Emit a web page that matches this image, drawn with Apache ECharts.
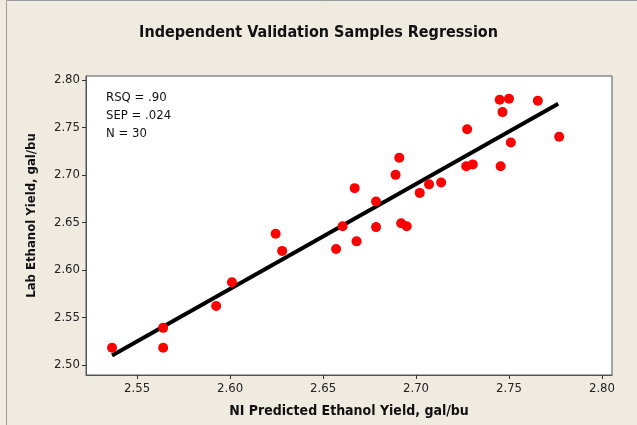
<!DOCTYPE html>
<html>
<head>
<meta charset="utf-8">
<script src="https://cdn.jsdelivr.net/npm/echarts@6/dist/echarts.min.js"></script>
<style>
  html, body { margin: 0; padding: 0; background: #efebe1; }
  #main { width: 637px; height: 425px; }
</style>
</head>
<body>
<div id="main"></div>
<script>
// NI predicted (x) vs lab (y) ethanol yield, gal/bu
var predicted = [2.5365, 2.564, 2.564, 2.5925, 2.601, 2.6245, 2.628, 2.657, 2.6605, 2.667,
                 2.668, 2.6785, 2.6785, 2.689, 2.691, 2.692, 2.695, 2.702, 2.707, 2.7135,
                 2.7275, 2.727, 2.7305, 2.745, 2.7455, 2.7465, 2.750, 2.751, 2.7655, 2.777];
var lab = [2.518, 2.539, 2.518, 2.562, 2.587, 2.638, 2.620, 2.622, 2.646, 2.686,
           2.630, 2.672, 2.645, 2.700, 2.718, 2.649, 2.646, 2.681, 2.690, 2.692,
           2.748, 2.709, 2.711, 2.779, 2.709, 2.766, 2.780, 2.734, 2.778, 2.740];

// fitted line end points
var fitX = [2.5365, 2.7765];
var fitY = [2.5098, 2.7748];

var ticks = [2.55, 2.60, 2.65, 2.70, 2.75, 2.80];
var yTicks = [2.50, 2.55, 2.60, 2.65, 2.70, 2.75, 2.80];
var statsText = ['RSQ = .90', 'SEP = .024', 'N = 30'];

var points = predicted.map(function (x, i) { return [x, lab[i]]; });
var fitLine = fitX.map(function (x, i) { return [x, fitY[i]]; });

var chart = echarts.init(document.getElementById('main'));
var font = '"DejaVu Sans Condensed", "DejaVu Sans", sans-serif';
var option = {
    backgroundColor: '#efebe1',
    animation: false,
    title: {
        text: 'Independent Validation Samples Regression',
        left: 'center',
        top: 20,
        textStyle: { fontFamily: font, fontSize: 16, fontWeight: 'bold', color: '#111' }
    },
    grid: {
        left: 86, right: 25, top: 76, bottom: 50,
        show: true,
        backgroundColor: '#fff',
        borderColor: '#555',
        borderWidth: 1
    },
    graphic: [
        {
            // window frame, left and top edge
            type: 'polyline',
            shape: { points: [[6.5, 425], [6.5, 0.5], [637, 0.5]] },
            style: { stroke: '#9a9a9a', lineWidth: 1, fill: null }
        }
    ].concat(statsText.map(function (t, i) {
        return {
            type: 'text',
            left: 106,
            top: 91 + i * 18,
            style: { text: t, fontFamily: font, fontSize: 13, fill: '#111' }
        };
    })),
    xAxis: {
        type: 'value',
        min: 2.5225,
        max: 2.8054,
        name: 'NI Predicted Ethanol Yield, gal/bu',
        nameLocation: 'middle',
        nameGap: 29,
        nameTextStyle: { fontFamily: font, fontSize: 14, fontWeight: 'bold', color: '#111' },
        axisLine: { lineStyle: { color: '#555' } },
        axisTick: { customValues: ticks, length: 4, lineStyle: { color: '#333' } },
        axisLabel: {
            customValues: ticks,
            fontFamily: font, fontSize: 13, color: '#222', margin: 7,
            formatter: function (v) { return v.toFixed(2); }
        },
        splitLine: { show: false }
    },
    yAxis: {
        type: 'value',
        min: 2.4894,
        max: 2.804,
        name: 'Lab Ethanol Yield, gal/bu',
        nameLocation: 'middle',
        nameGap: 48,
        nameTextStyle: { fontFamily: font, fontSize: 13, fontWeight: 'bold', color: '#111', padding: [0, 0, 0, 20] },
        axisLine: { lineStyle: { color: '#555' } },
        axisTick: { customValues: yTicks, length: 4, lineStyle: { color: '#333' } },
        axisLabel: {
            customValues: yTicks,
            fontFamily: font, fontSize: 13, color: '#222', margin: 6,
            formatter: function (v) { return v.toFixed(2); }
        },
        splitLine: { show: false }
    },
    series: [
        {
            type: 'line',
            data: fitLine,
            symbol: 'none',
            lineStyle: { color: '#000', width: 4 },
            z: 2
        },
        {
            type: 'scatter',
            data: points,
            symbolSize: 10,
            itemStyle: { color: '#ff0000', opacity: 1 },
            z: 3
        }
    ]
};
chart.setOption(option);
</script>
</body>
</html>
